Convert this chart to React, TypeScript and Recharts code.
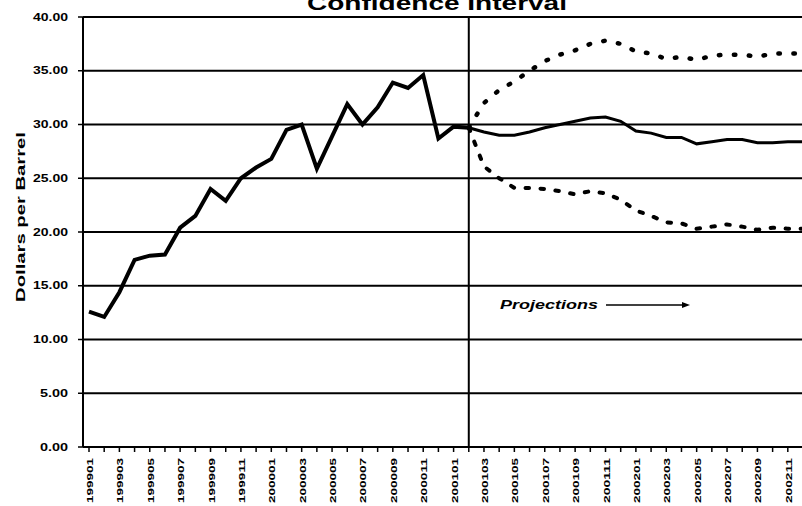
import { LineChart, Line, XAxis, YAxis, CartesianGrid, ReferenceLine, Label } from "recharts";

// monthly categories, Jan 1999 .. Dec 2002
const months = [
  "199901", "199902", "199903", "199904", "199905", "199906",
  "199907", "199908", "199909", "199910", "199911", "199912",
  "200001", "200002", "200003", "200004", "200005", "200006",
  "200007", "200008", "200009", "200010", "200011", "200012",
  "200101", "200102", "200103", "200104", "200105", "200106",
  "200107", "200108", "200109", "200110", "200111", "200112",
  "200201", "200202", "200203", "200204", "200205", "200206",
  "200207", "200208", "200209", "200210", "200211", "200212",
];

// history, 199901 .. 200102
const actual = [
  12.6, 12.1, 14.4, 17.4, 17.8, 17.9, 20.4, 21.5, 24.0, 22.9, 25.0, 26.0,
  26.8, 29.5, 30.0, 25.9, 28.9, 31.9, 30.0, 31.6, 33.9, 33.4, 34.6, 28.7,
  29.8, 29.7,
];

// projections, 200102 .. 200212
const forecast = [
  29.7, 29.3, 29.0, 29.0, 29.3, 29.7, 30.0, 30.3, 30.6, 30.7, 30.3, 29.4,
  29.2, 28.8, 28.8, 28.2, 28.4, 28.6, 28.6, 28.3, 28.3, 28.4, 28.4,
];
const upper = [
  29.7, 32.0, 33.2, 34.0, 35.0, 35.9, 36.5, 36.9, 37.5, 37.8, 37.5, 36.8,
  36.6, 36.1, 36.3, 36.0, 36.4, 36.5, 36.5, 36.3, 36.6, 36.6, 36.6,
];
const lower = [
  29.7, 26.1, 25.0, 24.1, 24.1, 24.0, 23.8, 23.5, 23.8, 23.6, 23.0, 22.0,
  21.5, 20.9, 20.8, 20.3, 20.5, 20.7, 20.5, 20.2, 20.4, 20.3, 20.3,
];

const yTicks = [0, 5, 10, 15, 20, 25, 30, 35, 40];

const start = actual.length - 1;
const data = months.map((month, i) => ({
  month,
  actual: i < actual.length ? actual[i] : null,
  forecast: i >= start ? forecast[i - start] : null,
  upper: i >= start ? upper[i - start] : null,
  lower: i >= start ? lower[i - start] : null,
}));

const FONT = "'Liberation Sans', Arial, sans-serif";

function MonthTick({ x, y, payload }: any) {
  const value = String(payload.value);
  // only odd months get a label
  if (Number(value.slice(4)) % 2 === 0) return <g />;
  return (
    <text
      transform={`translate(${x + 1},${y + 4}) rotate(-90)`}
      textAnchor="end"
      dominantBaseline="central"
      fontFamily={FONT}
      fontWeight="bold"
      fontSize={9}
      textLength={45}
      lengthAdjust="spacingAndGlyphs"
      fill="#000"
    >
      {value}
    </text>
  );
}

function DollarTick({ x, y, payload }: any) {
  const label = Number(payload.value).toFixed(2);
  return (
    <text
      x={x}
      y={y}
      textAnchor="end"
      dominantBaseline="central"
      fontFamily={FONT}
      fontWeight="bold"
      fontSize={10}
      textLength={label.length * 7}
      lengthAdjust="spacingAndGlyphs"
      fill="#000"
    >
      {label}
    </text>
  );
}

export default function App() {
  return (
    <div style={{ position: "absolute", left: 0, top: 0, width: 802, height: 506, overflow: "hidden", background: "#fff" }}>
      <LineChart width={809} height={506} data={data} margin={{ top: 17, right: 0, left: 0, bottom: 0 }}>
        <CartesianGrid vertical={false} stroke="#000" strokeWidth={2} />
        <XAxis
          dataKey="month"
          interval={0}
          height={59}
          padding={{ left: 6, right: 6 }}
          axisLine={{ stroke: "#000", strokeWidth: 2 }}
          tickLine={{ stroke: "#000", strokeWidth: 1.5 }}
          tickSize={5}
          tick={(p: any) => <MonthTick {...p} />}
        />
        <YAxis
          domain={[0, 40]}
          ticks={yTicks}
          width={83}
          axisLine={{ stroke: "#000", strokeWidth: 2 }}
          tickLine={{ stroke: "#000", strokeWidth: 1.5 }}
          tickSize={5}
          tickMargin={10}
          tick={(p: any) => <DollarTick {...p} />}
        >
          <Label
            content={() => (
              <text
                transform="translate(21,217) rotate(-90)"
                textAnchor="middle"
                dominantBaseline="central"
                fontFamily={FONT}
                fontWeight="bold"
                fontSize={12}
                textLength={170}
                lengthAdjust="spacingAndGlyphs"
                fill="#000"
              >
                Dollars per Barrel
              </text>
            )}
          />
        </YAxis>
        <ReferenceLine x={months[start]} stroke="#000" strokeWidth={2} />
        <Line
          dataKey="upper"
          stroke="#000"
          strokeWidth={4.5}
          strokeDasharray="1.5 13.5"
          strokeLinecap="round"
          dot={false}
          isAnimationActive={false}
        />
        <Line
          dataKey="lower"
          stroke="#000"
          strokeWidth={4}
          strokeDasharray="3.5 11.5"
          strokeLinecap="round"
          dot={false}
          isAnimationActive={false}
        />
        <Line dataKey="forecast" stroke="#000" strokeWidth={3} dot={false} isAnimationActive={false} />
        <Line dataKey="actual" stroke="#000" strokeWidth={4} strokeLinejoin="miter" dot={false} isAnimationActive={false} />
      </LineChart>
      <svg width={802} height={506} style={{ position: "absolute", left: 0, top: 0, pointerEvents: "none" }}>
        <text
          x={437}
          y={10}
          textAnchor="middle"
          fontFamily={FONT}
          fontWeight="bold"
          fontSize={20}
          textLength={260}
          lengthAdjust="spacingAndGlyphs"
          fill="#000"
        >
          Confidence Interval
        </text>
        <text
          x={500}
          y={309}
          fontFamily={FONT}
          fontWeight="bold"
          fontStyle="italic"
          fontSize={12}
          textLength={98}
          lengthAdjust="spacingAndGlyphs"
          fill="#000"
        >
          Projections
        </text>
        <line x1={606} y1={305} x2={684} y2={305} stroke="#000" strokeWidth={1.5} />
        <path d="M682,302 L690,305 L682,308 Z" fill="#000" />
      </svg>
    </div>
  );
}
